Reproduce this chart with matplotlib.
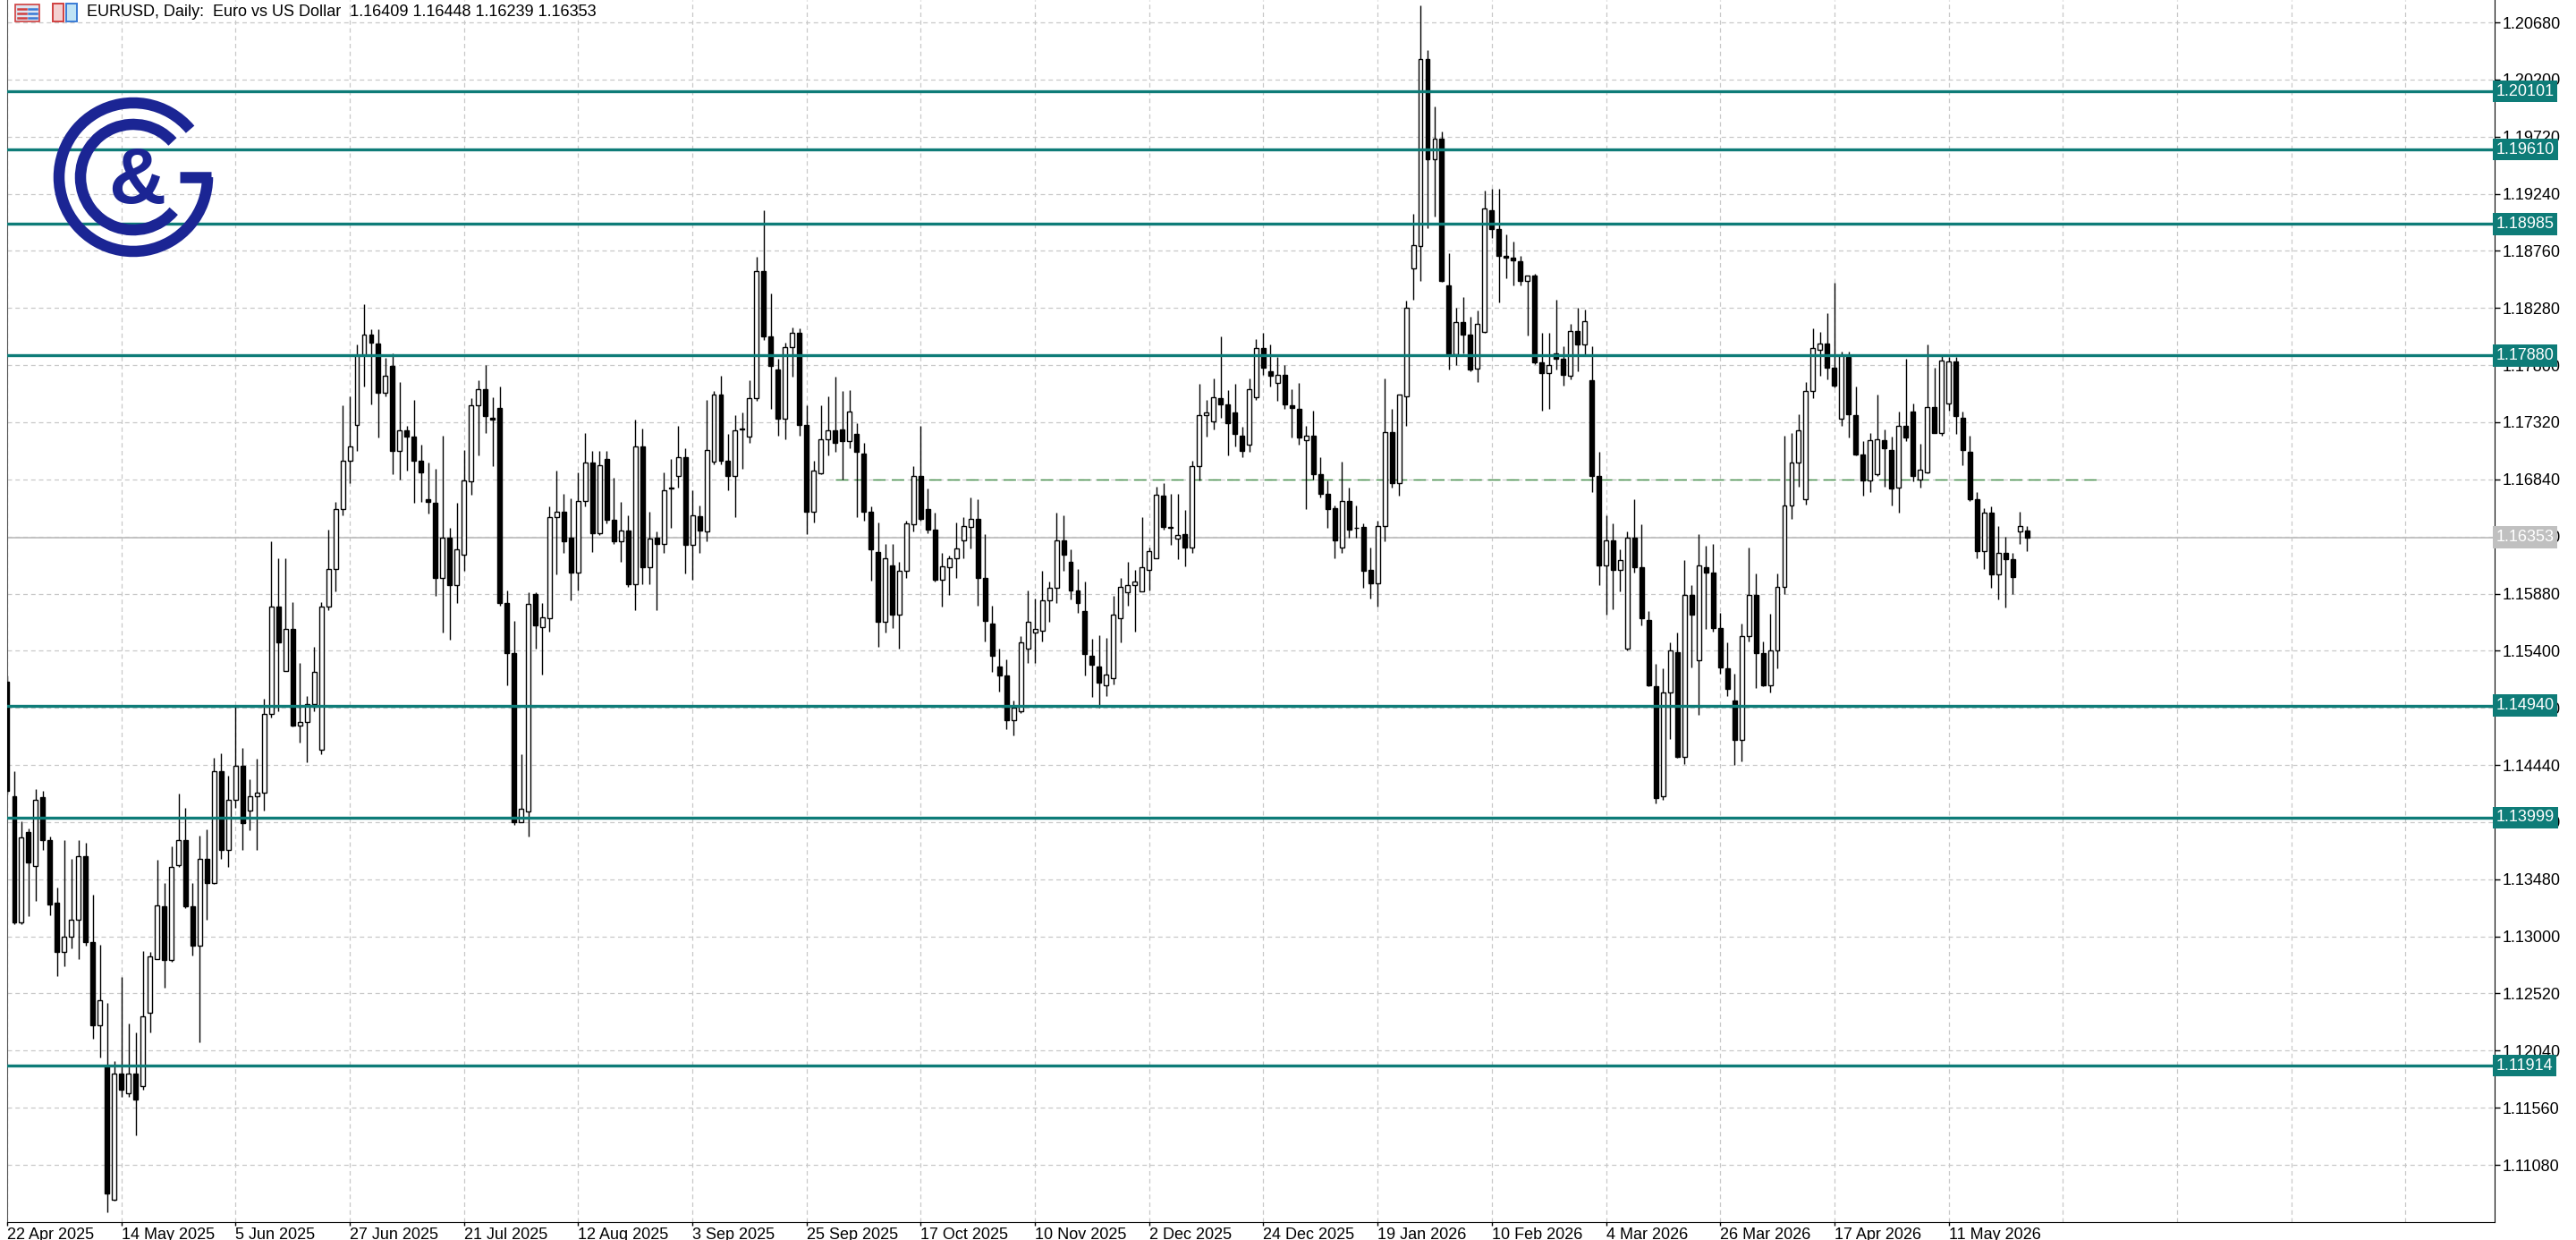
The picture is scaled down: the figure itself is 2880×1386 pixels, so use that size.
import numpy as np
import matplotlib
matplotlib.use("Agg")
import matplotlib.pyplot as plt
from matplotlib.patches import Arc, Rectangle
from matplotlib.transforms import blended_transform_factory

plt.rcParams['font.family'] = ['Liberation Sans', 'DejaVu Sans']

# daily EURUSD candles (22 Apr 2025 .. late May 2026)
opens = [
    1.1514,1.1418,1.1312,1.1388,1.1359,1.1417,1.1381,1.1328,1.1287,1.1300,
    1.1314,1.1367,1.1295,1.1225,1.1191,1.1079,1.1185,1.1168,1.1185,1.1174,
    1.1236,1.1281,1.1325,1.1280,1.1360,1.1381,1.1325,1.1292,1.1365,1.1345,
    1.1439,1.1373,1.1415,1.1443,1.1406,1.1418,1.1421,1.1487,1.1577,1.1523,
    1.1558,1.1477,1.1480,1.1495,1.1457,1.1577,1.1609,1.1659,1.1700,1.1730,
    1.1788,1.1806,1.1798,1.1757,1.1779,1.1708,1.1725,1.1720,1.1700,1.1667,
    1.1664,1.1601,1.1635,1.1595,1.1621,1.1682,1.1746,1.1760,1.1736,1.1744,
    1.1580,1.1538,1.1396,1.1405,1.1588,1.1560,1.1567,1.1652,1.1657,1.1635,
    1.1606,1.1666,1.1698,1.1639,1.1701,1.1650,1.1632,1.1641,1.1596,1.1712,
    1.1610,1.1635,1.1630,1.1676,1.1687,1.1703,1.1629,1.1653,1.1640,1.1699,
    1.1755,1.1700,1.1687,1.1726,1.1720,1.1752,1.1859,1.1804,1.1776,1.1735,
    1.1795,1.1807,1.1730,1.1657,1.1689,1.1718,1.1725,1.1726,1.1716,1.1722,
    1.1706,1.1657,1.1623,1.1564,1.1612,1.1570,1.1607,1.1646,1.1687,1.1659,
    1.1642,1.1600,1.1610,1.1618,1.1633,1.1644,1.1651,1.1601,1.1563,1.1527,
    1.1519,1.1482,1.1489,1.1542,1.1555,1.1557,1.1582,1.1593,1.1633,1.1615,
    1.1591,1.1573,1.1536,1.1527,1.1511,1.1517,1.1567,1.1589,1.1595,1.1590,
    1.1608,1.1618,1.1670,1.1644,1.1634,1.1638,1.1627,1.1695,1.1738,1.1733,
    1.1752,1.1747,1.1740,1.1721,1.1713,1.1753,1.1794,1.1775,1.1765,1.1772,
    1.1746,1.1743,1.1717,1.1721,1.1688,1.1672,1.1660,1.1627,1.1666,1.1643,
    1.1644,1.1608,1.1597,1.1645,1.1724,1.1681,1.1754,1.1861,1.1880,1.2037,
    1.1953,1.1970,1.1847,1.1789,1.1816,1.1806,1.1777,1.1808,1.1910,1.1894,
    1.1872,1.1870,1.1867,1.1851,1.1855,1.1782,1.1773,1.1790,1.1785,1.1771,
    1.1809,1.1797,1.1767,1.1687,1.1612,1.1633,1.1608,1.1542,1.1635,1.1610,
    1.1566,1.1510,1.1418,1.1505,1.1539,1.1451,1.1587,1.1532,1.1610,1.1606,
    1.1559,1.1525,1.1498,1.1465,1.1552,1.1587,1.1538,1.1511,1.1540,1.1594,
    1.1662,1.1698,1.1667,1.1758,1.1793,1.1798,1.1778,1.1735,1.1787,1.1738,
    1.1705,1.1683,1.1688,1.1717,1.1709,1.1677,1.1729,1.1741,1.1684,1.1690,
    1.1745,1.1723,1.1748,1.1783,1.1736,1.1707,1.1667,1.1624,1.1656,1.1604,
    1.1622,1.1617,1.1640,1.16409]
closes = [
    1.1422,1.1312,1.1383,1.1362,1.1415,1.1381,1.1327,1.1287,1.1300,1.1314,
    1.1367,1.1295,1.1225,1.1246,1.1084,1.1185,1.1171,1.1185,1.1163,1.1233,
    1.1283,1.1326,1.1280,1.1358,1.1381,1.1325,1.1292,1.1365,1.1345,1.1439,
    1.1373,1.1415,1.1443,1.1395,1.1418,1.1421,1.1487,1.1577,1.1547,1.1558,
    1.1477,1.1480,1.1495,1.1522,1.1577,1.1609,1.1659,1.1700,1.1712,1.1788,
    1.1806,1.1799,1.1757,1.1771,1.1708,1.1725,1.1720,1.1700,1.1690,1.1665,
    1.1601,1.1635,1.1595,1.1625,1.1683,1.1746,1.1760,1.1737,1.1734,1.1580,
    1.1538,1.1396,1.1407,1.1579,1.1561,1.1568,1.1652,1.1657,1.1632,1.1606,
    1.1666,1.1698,1.1639,1.1696,1.1650,1.1632,1.1641,1.1596,1.1712,1.1610,
    1.1634,1.1630,1.1675,1.1677,1.1703,1.1629,1.1654,1.1641,1.1709,1.1755,
    1.1700,1.1687,1.1725,1.1727,1.1752,1.1859,1.1804,1.1779,1.1735,1.1795,
    1.1807,1.1730,1.1657,1.1691,1.1718,1.1725,1.1715,1.1716,1.1741,1.1707,
    1.1657,1.1625,1.1564,1.1618,1.1570,1.1607,1.1647,1.1687,1.1651,1.1642,
    1.1600,1.1611,1.1618,1.1626,1.1645,1.1651,1.1601,1.1565,1.1536,1.1519,
    1.1482,1.1492,1.1547,1.1564,1.1558,1.1582,1.1593,1.1633,1.1621,1.1591,
    1.1580,1.1537,1.1528,1.1513,1.1520,1.1570,1.1594,1.1595,1.1598,1.1610,
    1.1624,1.1671,1.1644,1.1643,1.1637,1.1627,1.1695,1.1738,1.1740,1.1753,
    1.1747,1.1731,1.1722,1.1708,1.1760,1.1794,1.1778,1.1771,1.1772,1.1747,
    1.1744,1.1719,1.1721,1.1688,1.1672,1.1659,1.1633,1.1666,1.1642,1.1643,
    1.1607,1.1597,1.1645,1.1724,1.1681,1.1755,1.1828,1.1881,1.2037,1.1953,
    1.1970,1.1851,1.1790,1.1816,1.1806,1.1776,1.1815,1.1912,1.1894,1.1872,
    1.1870,1.1868,1.1851,1.1855,1.1782,1.1773,1.1780,1.1785,1.1772,1.1809,
    1.1797,1.1817,1.1687,1.1612,1.1633,1.1608,1.1616,1.1635,1.1610,1.1567,
    1.1511,1.1416,1.1505,1.1540,1.1451,1.1587,1.1570,1.1612,1.1606,1.1559,
    1.1526,1.1508,1.1465,1.1552,1.1587,1.1538,1.1511,1.1540,1.1594,1.1662,
    1.1698,1.1725,1.1758,1.1794,1.1798,1.1778,1.1763,1.1788,1.1739,1.1705,
    1.1683,1.1717,1.1718,1.1710,1.1676,1.1729,1.1719,1.1687,1.1692,1.1745,
    1.1723,1.1784,1.1783,1.1737,1.1709,1.1667,1.1624,1.1656,1.1604,1.1622,
    1.1617,1.1602,1.1645,1.16353]
highs = [
    1.1519,1.1439,1.1397,1.1391,1.1424,1.1422,1.1384,1.1341,1.1381,1.1365,
    1.1381,1.1379,1.1335,1.1293,1.1244,1.1195,1.1266,1.1227,1.1219,1.1288,
    1.1287,1.1364,1.1345,1.1376,1.1420,1.1408,1.1345,1.1385,1.1390,1.1450,
    1.1454,1.1435,1.1494,1.1458,1.1432,1.1449,1.1500,1.1632,1.1618,1.1618,
    1.1581,1.1530,1.1502,1.1543,1.1581,1.1642,1.1665,1.1746,1.1754,1.1797,
    1.1831,1.1810,1.1810,1.1786,1.1790,1.1766,1.1729,1.1751,1.1713,1.1698,
    1.1693,1.1721,1.1643,1.1664,1.1709,1.1752,1.1767,1.1780,1.1753,1.1762,
    1.1591,1.1565,1.1453,1.1589,1.1589,1.1580,1.1661,1.1691,1.1672,1.1668,
    1.1690,1.1723,1.1708,1.1708,1.1708,1.1685,1.1665,1.1654,1.1734,1.1727,
    1.1657,1.1640,1.1690,1.1701,1.1729,1.1710,1.1675,1.1662,1.1751,1.1758,
    1.1771,1.1722,1.1738,1.1740,1.1767,1.1871,1.1910,1.1840,1.1785,1.1799,
    1.1812,1.1811,1.1746,1.1700,1.1746,1.1754,1.1770,1.1758,1.1759,1.1731,
    1.1715,1.1661,1.1648,1.1630,1.1630,1.1615,1.1649,1.1695,1.1729,1.1676,
    1.1656,1.1622,1.1620,1.1648,1.1652,1.1669,1.1667,1.1638,1.1578,1.1542,
    1.1533,1.1498,1.1552,1.1591,1.1584,1.1607,1.1598,1.1656,1.1654,1.1625,
    1.1609,1.1598,1.1550,1.1553,1.1551,1.1586,1.1601,1.1615,1.1608,1.1652,
    1.1627,1.1678,1.1681,1.1672,1.1672,1.1658,1.1700,1.1764,1.1751,1.1769,
    1.1804,1.1759,1.1764,1.1728,1.1769,1.1802,1.1807,1.1797,1.1787,1.1780,
    1.1760,1.1765,1.1729,1.1742,1.1703,1.1683,1.1662,1.1699,1.1677,1.1662,
    1.1647,1.1627,1.1649,1.1769,1.1743,1.1755,1.1834,1.1907,1.2082,1.2045,
    1.1997,1.1976,1.1874,1.1828,1.1837,1.1821,1.1826,1.1927,1.1928,1.1928,
    1.1890,1.1884,1.1872,1.1855,1.1857,1.1807,1.1807,1.1835,1.1796,1.1815,
    1.1828,1.1827,1.1796,1.1707,1.1654,1.1647,1.1625,1.1640,1.1667,1.1646,
    1.1573,1.1529,1.1525,1.1547,1.1555,1.1616,1.1595,1.1638,1.1628,1.1630,
    1.1572,1.1547,1.1521,1.1563,1.1627,1.1605,1.1548,1.1571,1.1605,1.1721,
    1.1723,1.1739,1.1766,1.1811,1.1808,1.1824,1.1849,1.1791,1.1791,1.1762,
    1.1716,1.1723,1.1755,1.1726,1.1720,1.1741,1.1785,1.1748,1.1714,1.1797,
    1.1778,1.1788,1.1787,1.1787,1.1741,1.1721,1.1673,1.1660,1.1661,1.1645,
    1.1636,1.1622,1.1657,1.16448]
lows = [
    1.1419,1.1310,1.1310,1.1317,1.1330,1.1373,1.1318,1.1267,1.1275,1.1290,
    1.1281,1.1292,1.1214,1.1198,1.1068,1.1078,1.1165,1.1165,1.1133,1.1171,
    1.1219,1.1281,1.1257,1.1279,1.1358,1.1324,1.1284,1.1211,1.1314,1.1344,
    1.1365,1.1358,1.1408,1.1373,1.1389,1.1373,1.1406,1.1484,1.1489,1.1523,
    1.1476,1.1463,1.1446,1.1489,1.1453,1.1574,1.1590,1.1654,1.1681,1.1708,
    1.1762,1.1747,1.1719,1.1754,1.1688,1.1684,1.1691,1.1664,1.1665,1.1655,
    1.1586,1.1555,1.1549,1.1580,1.1607,1.1671,1.1704,1.1723,1.1695,1.1578,
    1.1511,1.1394,1.1396,1.1384,1.1542,1.1520,1.1556,1.1604,1.1622,1.1582,
    1.1591,1.1661,1.1623,1.1637,1.1647,1.1630,1.1615,1.1594,1.1574,1.1596,
    1.1596,1.1574,1.1622,1.1643,1.1677,1.1605,1.1600,1.1622,1.1632,1.1697,
    1.1697,1.1675,1.1652,1.1693,1.1715,1.1750,1.1801,1.1743,1.1721,1.1718,
    1.1770,1.1721,1.1638,1.1648,1.1688,1.1704,1.1707,1.1684,1.1710,1.1652,
    1.1649,1.1599,1.1543,1.1555,1.1559,1.1542,1.1601,1.1640,1.1649,1.1639,
    1.1598,1.1577,1.1587,1.1601,1.1618,1.1626,1.1578,1.1548,1.1522,1.1506,
    1.1474,1.1469,1.1488,1.1530,1.1530,1.1548,1.1564,1.1580,1.1607,1.1583,
    1.1572,1.1519,1.1501,1.1492,1.1502,1.1512,1.1547,1.1578,1.1556,1.1590,
    1.1591,1.1618,1.1642,1.1629,1.1617,1.1611,1.1622,1.1683,1.1720,1.1726,
    1.1736,1.1704,1.1712,1.1703,1.1707,1.1751,1.1772,1.1762,1.1750,1.1743,
    1.1719,1.1713,1.1659,1.1684,1.1669,1.1643,1.1618,1.1622,1.1635,1.1635,
    1.1593,1.1584,1.1577,1.1632,1.1677,1.1670,1.1729,1.1835,1.1851,1.1895,
    1.1905,1.1850,1.1776,1.1780,1.1790,1.1775,1.1766,1.1807,1.1887,1.1833,
    1.1853,1.1847,1.1847,1.1805,1.1781,1.1742,1.1743,1.1776,1.1763,1.1768,
    1.1775,1.1788,1.1673,1.1595,1.1570,1.1575,1.1590,1.1540,1.1606,1.1561,
    1.1510,1.1412,1.1415,1.1466,1.1450,1.1445,1.1526,1.1486,1.1558,1.1556,
    1.1521,1.1502,1.1444,1.1447,1.1548,1.1509,1.1510,1.1505,1.1525,1.1588,
    1.1651,1.1678,1.1663,1.1752,1.1771,1.1768,1.1761,1.1729,1.1719,1.1704,
    1.1670,1.1673,1.1687,1.1678,1.1662,1.1656,1.1716,1.1682,1.1677,1.1689,
    1.1723,1.1721,1.1742,1.1722,1.1696,1.1666,1.1618,1.1609,1.1593,1.1583,
    1.1576,1.1588,1.1630,1.16239]

date_labels = ["22 Apr 2025", "14 May 2025", "5 Jun 2025", "27 Jun 2025", "21 Jul 2025",
               "12 Aug 2025", "3 Sep 2025", "25 Sep 2025", "17 Oct 2025", "10 Nov 2025",
               "2 Dec 2025", "24 Dec 2025", "19 Jan 2026", "10 Feb 2026", "4 Mar 2026",
               "26 Mar 2026", "17 Apr 2026", "11 May 2026"]
label_step = 16  # bars between date labels

price_ticks = [1.20680, 1.20200, 1.19720, 1.19240, 1.18760, 1.18280, 1.17800, 1.17320,
               1.16840, 1.16360, 1.15880, 1.15400, 1.14920, 1.14440, 1.13960, 1.13480,
               1.13000, 1.12520, 1.12040, 1.11560, 1.11080]
levels = [1.20101, 1.19610, 1.18985, 1.17880, 1.14940, 1.13999, 1.11914]
last_price = 1.16353
dashed_level = 1.16840
dashed_span = (116, 293)

TEAL = "#0e7c78"
NAVY = "#1b2594"
FS = 13

o = np.array(opens); c = np.array(closes)
h = np.maximum(np.array(highs), np.maximum(o, c))
l = np.minimum(np.array(lows), np.minimum(o, c))
n = len(o)
x = np.arange(n)

fig = plt.figure(figsize=(28.8, 13.86), dpi=100)
ax = fig.add_axes([8 / 2880, 20 / 1386, 2781 / 2880, 1366 / 1386])
ax.set_xlim(0.0, 348.5)
ax.set_ylim(1.10599, 1.20868)

# grid
for p in price_ticks:
    ax.axhline(p, color="#c8c8c8", lw=0.9, ls=(0, (4, 3)), zorder=0)
for k in range(22):
    ax.axvline(k * label_step, color="#c8c8c8", lw=0.9, ls=(0, (4, 3)), zorder=0)

# candles
bw = 0.62
ax.vlines(x, l, h, color="black", lw=1.0, zorder=2)
for i in range(n):
    up = c[i] >= o[i]
    lo_, hi_ = min(o[i], c[i]), max(o[i], c[i])
    ax.add_patch(Rectangle((x[i] - bw / 2, lo_), bw, max(hi_ - lo_, 0.00004),
                           facecolor="white" if up else "black", edgecolor="black",
                           lw=1.0, zorder=3))

# levels
tr = blended_transform_factory(ax.transAxes, ax.transData)
ax.axhline(last_price, color="#c0c0c0", lw=1.3, zorder=1)
ax.hlines(dashed_level, dashed_span[0], dashed_span[1], color="#3f8a45", lw=1.0,
          ls=(0, (10, 5)), zorder=1)
for lv in levels:
    ax.axhline(lv, color=TEAL, lw=2.4, zorder=4)

# axes look
ax.spines["top"].set_visible(False)
ax.spines["left"].set_color("#555555")
ax.yaxis.tick_right()
ax.set_yticks(price_ticks)
ax.set_yticklabels([f"{p:.5f}" for p in price_ticks])
ax.set_xticks([k * label_step for k in range(len(date_labels))])
ax.set_xticklabels(date_labels, ha="left")
ax.tick_params(axis="y", length=4, width=1, labelsize=FS, pad=2)
ax.tick_params(axis="x", length=3, width=1, labelsize=FS, pad=1)

for lv in levels:
    ax.text(1.0006, lv, f"{lv:.5f}", transform=tr, ha="left", va="center", color="white",
            fontsize=FS, zorder=10, clip_on=False,
            bbox=dict(boxstyle="square,pad=0.2", facecolor=TEAL, edgecolor="none"))
ax.text(1.0006, last_price, f"{last_price:.5f}", transform=tr, ha="left", va="center",
        color="white", fontsize=FS, zorder=10, clip_on=False,
        bbox=dict(boxstyle="square,pad=0.2", facecolor="#c0c0c0", edgecolor="none"))

# overlay in pixel coords: title, icons, logo
ov = fig.add_axes([0, 0, 1, 1], zorder=20)
ov.set_xlim(0, 2880); ov.set_ylim(1386, 0); ov.axis("off"); ov.patch.set_alpha(0)
ov.add_patch(Rectangle((17, 5), 27, 19, facecolor="#dde6f2", edgecolor="#d04040", lw=1.2))
for yy in (10, 15, 20):
    ov.plot([20, 29], [yy, yy], color="#d04040", lw=1.8)
    ov.plot([32, 41], [yy, yy], color="#3a7bd5", lw=1.8)
ov.add_patch(Rectangle((59, 4), 12, 20, facecolor="#f4d0d0", edgecolor="#d04040", lw=1.4))
ov.add_patch(Rectangle((74, 4), 12, 20, facecolor="#bfe3f5", edgecolor="#3a7bd5", lw=1.4))
ov.text(97, 14, "EURUSD, Daily:  Euro vs US Dollar  1.16409 1.16448 1.16239 1.16353",
        fontsize=FS, va="center", ha="left", color="black")

cx, cy = 149, 198
ov.add_patch(Arc((cx, cy), 166, 166, theta1=0, theta2=320, color=NAVY, lw=9))
ov.add_patch(Arc((cx, cy), 118, 118, theta1=40, theta2=318, color=NAVY, lw=9))
ov.plot([cx + 52, cx + 87], [cy, cy], color=NAVY, lw=9, solid_capstyle="butt")
ov.text(cx + 4, cy + 6, "&", fontsize=64, fontweight="bold", color=NAVY,
        ha="center", va="center")

fig.savefig("out.png", dpi=100)
